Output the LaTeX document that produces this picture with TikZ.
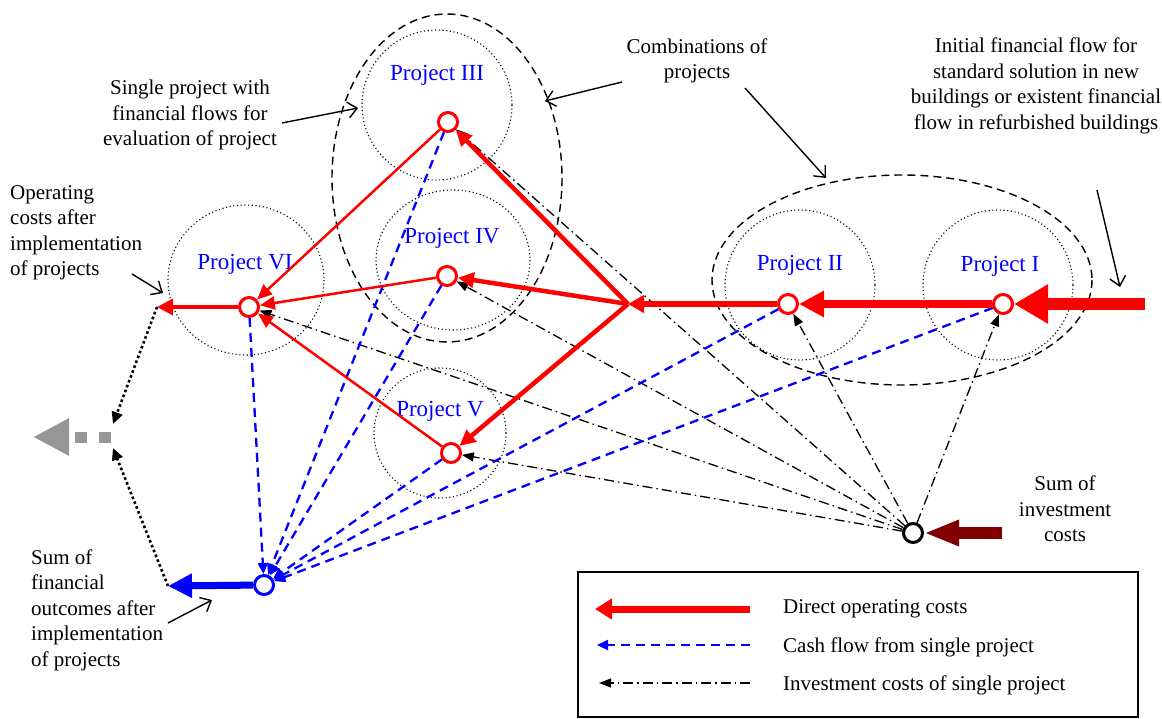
\documentclass[tikz,border=0pt]{standalone}
\usepackage{fontspec}
\setmainfont{Liberation Serif}
\usetikzlibrary{arrows.meta}
\definecolor{darkred}{RGB}{128,0,0}
\definecolor{arrowgrey}{RGB}{150,150,150}
\begin{document}
\begin{tikzpicture}[x=1pt,y=-1pt,
 lbl/.style={font=\fontsize{21}{25.5}\selectfont, align=center, inner sep=0pt},
 lgd/.style={font=\fontsize{21}{25}\selectfont, anchor=west, inner sep=0pt},
 proj/.style={font=\fontsize{23}{27}\selectfont, text=blue, inner sep=0pt},
 pcirc/.style={line width=1.1pt, dash pattern=on 1.1pt off 2.6pt},
 comb/.style={line width=1.4pt, dash pattern=on 8pt off 5pt},
 pnode/.style={circle, draw=red, line width=3pt, fill=white, minimum size=19pt, inner sep=0pt},
 dd/.style={line width=1.3pt, dash pattern=on 10pt off 4pt on 1.5pt off 4pt, -{Triangle[length=12pt,width=9pt]}},
 bd/.style={draw=blue, line width=2.3pt, dash pattern=on 9pt off 6pt, -{Triangle[length=11pt,width=10pt]}},
 la/.style={line width=1.4pt, -{Straight Barb[length=9pt,width=16pt]}},
 dotb/.style={line width=2.6pt, dash pattern=on 2.6pt off 2.6pt, -{Triangle[length=12pt,width=11pt]}},
]
\useasboundingbox (0,0) rectangle (1162,719);

% project circles
\draw[pcirc] (998,285) ellipse [x radius=75, y radius=75];
\draw[pcirc] (800,285) ellipse [x radius=75, y radius=75];
\draw[pcirc] (437,105) ellipse [x radius=75, y radius=75];
\draw[pcirc] (453,260) ellipse [x radius=77, y radius=70];
\draw[pcirc] (440,433) ellipse [x radius=66, y radius=65];
\draw[pcirc] (246,280) ellipse [x radius=78, y radius=75];
% combination ellipses
\draw[comb] (902,280) ellipse [x radius=190, y radius=105];
\draw[comb] (447,178) ellipse [x radius=115, y radius=164];

% project labels
\node[proj] (l1) at (1000,266) {Project I};
\node[proj] (l2) at (800,265) {Project II};
\node[proj] (l3) at (437,75) {Project III};
\node[proj] (l4) at (452,238) {Project IV};
\node[proj] (l5) at (440,411) {Project V};
\node[proj] (l6) at (245,264) {Project VI};

% nodes
\node[pnode] (n1) at (1003,304) {};
\node[pnode] (n2) at (788,304) {};
\node[pnode] (n3) at (448,122) {};
\node[pnode] (n4) at (447,276) {};
\node[pnode] (n5) at (451,453) {};
\node[pnode] (n6) at (249,307) {};
\node[circle, draw=blue, line width=3pt, fill=white, minimum size=19pt, inner sep=0pt] (nsum) at (264,585) {};
\node[circle, draw=black, line width=3pt, fill=white, minimum size=19pt, inner sep=0pt] (ninv) at (913,533) {};
\coordinate (hub) at (628,304);
\coordinate (in) at (1145,304);
\coordinate (out6) at (157,307);
\coordinate (outsum) at (168,586);
\coordinate (invin) at (1002,533);
\coordinate (g1) at (111,437);
\coordinate (g2) at (33,437);
\coordinate (gt) at (113,424);
\coordinate (gb) at (113,448);

% investment dash-dot arrows
\foreach \n in {n1,n2,n3,n4,n5,n6} \draw[dd] (ninv) -- (\n);
% cash flow blue dashed
\foreach \n in {n1,n2,n3,n4,n5,n6} \draw[bd] (\n) -- (nsum);

% red flows
\draw[red, line width=12pt, -{Triangle[length=34pt,width=37pt]}] (in) -- (n1);
\draw[red, line width=8pt, -{Triangle[length=25pt,width=25pt]}] (n1) -- (n2);
\draw[red, line width=6pt, -{Triangle[length=16pt,width=17pt]}] (n2) -- (hub);
\foreach \n in {n3,n4,n5} \draw[red, line width=4.5pt, -{Triangle[length=16pt,width=15pt]}] (hub) -- (\n);
\foreach \n in {n3,n4,n5} \draw[red, line width=2.5pt, -{Triangle[length=15pt,width=13pt]}] (\n) -- (n6);
\draw[red, line width=3.5pt, -{Triangle[length=16pt,width=16pt]}] (n6) -- (out6);

% sum outputs
\draw[blue, line width=7pt, -{Triangle[length=24pt,width=23pt]}] (nsum) -- (outsum);
\draw[darkred, line width=12pt, -{Triangle[length=35pt,width=24pt]}] (invin) -- (ninv);
\draw[dotb] (out6) -- (gt);
\draw[dotb] (outsum) -- (gb);
\draw[arrowgrey, line width=11pt, dash pattern=on 12pt off 12pt, -{Triangle[length=36pt,width=35pt]}] (g1) -- (g2);

% text labels
\node[lbl] (tsingle) at (190,115) {Single project with\\financial flows for\\evaluation of project};
\node[lbl] (tcomb) at (697,61) {Combinations of\\projects};
\node[lbl] (tinit) at (1036,86) {Initial financial flow for\\standard solution in new\\buildings or existent financial\\flow in refurbished buildings};
\node[lbl, align=left, anchor=west] (toper) at (10,233) {Operating\\costs after\\implementation\\of projects};
\node[lbl, align=left, anchor=west] (tsum) at (31,610) {Sum of\\financial\\outcomes after\\implementation\\of projects};
\node[lbl] (tinv) at (1065,509) {Sum of\\investment\\costs};

% label arrows
\coordinate (a1s) at (282,123); \coordinate (a1e) at (358,108);
\coordinate (a2s) at (622,82);  \coordinate (a2e) at (545,101);
\coordinate (a3s) at (745,88);  \coordinate (a3e) at (826,178);
\coordinate (a4s) at (1097,190); \coordinate (a4e) at (1120,287);
\coordinate (a5s) at (132,274); \coordinate (a5e) at (163,293);
\coordinate (a6s) at (168,623); \coordinate (a6e) at (212,600);
\draw[la] (a1s) -- (a1e);
\draw[la] (a2s) -- (a2e);
\draw[la] (a3s) -- (a3e);
\draw[la] (a4s) -- (a4e);
\draw[la] (a5s) -- (a5e);
\draw[la] (a6s) -- (a6e);

% legend
\node[draw, line width=1.5pt, minimum width=560pt, minimum height=145pt, inner sep=0pt] (legend) at (858,644.5) {};
\coordinate (lr1) at (750,609); \coordinate (lr2) at (595,609);
\coordinate (lb1) at (750,645); \coordinate (lb2) at (597,645);
\coordinate (lk1) at (750,683); \coordinate (lk2) at (599,683);
\draw[red, line width=7pt, -{Triangle[length=17pt,width=20pt]}] (lr1) -- (lr2);
\draw[bd] (lb1) -- (lb2);
\draw[dd] (lk1) -- (lk2);
\node[lgd] (tl1) at (783,609) {Direct operating costs};
\node[lgd] (tl2) at (783,647) {Cash flow from single project};
\node[lgd] (tl3) at (783,685) {Investment costs of single project};
\end{tikzpicture}
\end{document}
